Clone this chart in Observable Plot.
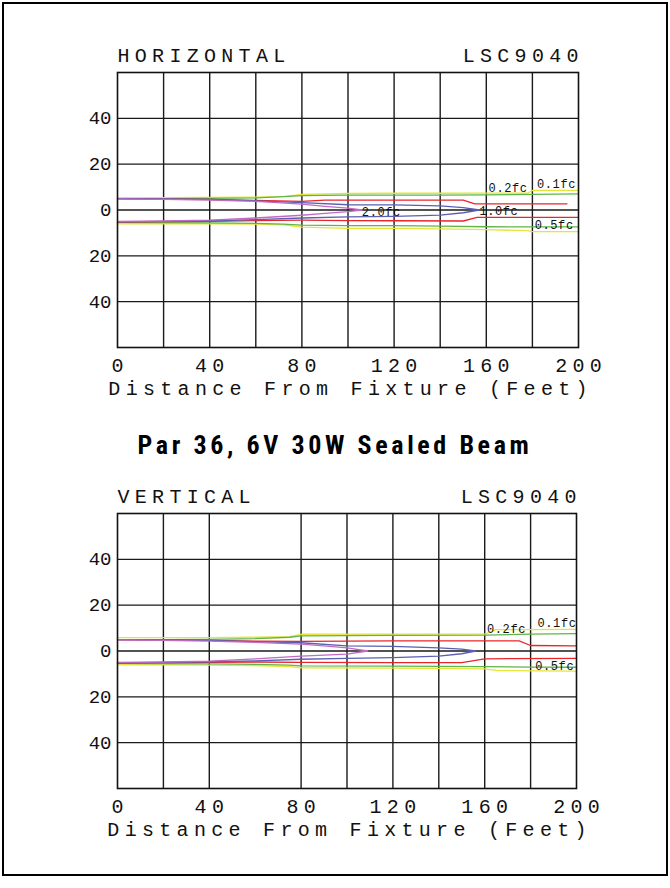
<!DOCTYPE html>
<html>
<head>
<meta charset="utf-8">
<script src="https://cdn.jsdelivr.net/npm/d3@7"></script>
<script src="https://cdn.jsdelivr.net/npm/@observablehq/plot@0.6"></script>
<style>
  html, body { margin: 0; padding: 0; background: #fff; }
  #page { position: relative; width: 670px; height: 888px; overflow: hidden; background: #fff; }
  #border { position: absolute; left: 2px; top: 2px; width: 662px; height: 870px; border: 2px solid #000; z-index: 5; pointer-events: none; }
  .chart { position: absolute; left: 0; z-index: 1; }
  #title { position: absolute; left: 0; width: 670px; top: 430px; text-align: center; z-index: 3;
    font-family: "Liberation Sans Narrow", "Roboto Condensed", "Liberation Sans", Arial, sans-serif;
    font-weight: bold; font-size: 26px; letter-spacing: 3.6px; line-height: 30px; color: #000; }
</style>
</head>
<body>
<div id="page">
  <div id="top" class="chart" style="top:0px"></div>
  <div id="bot" class="chart" style="top:440px"></div>
  <div id="title">Par 36, 6V 30W Sealed Beam</div>
  <div id="border"></div>
</div>
<script>
// ---------- data ----------
const xTickLabels = [0, 40, 80, 120, 160, 200];
const yTickValues = [-40, -20, 0, 20, 40];
const xGridTop = [20, 40, 60, 80, 100, 120, 140, 160, 180];
const xGridBot = [20, 40, 80, 100, 120, 140, 160, 180];
const yGrid = [-40, -20, 0, 20, 40];
const xLabel = "Distance From Fixture (Feet)";

// contour colours
const colors = {"0.1fc": "#e4e43a", "0.2fc": "#5fb548", "0.5fc": "#e8262a", "1.0fc": "#5a5fb4", "2.0fc": "#c26ac4"};

// HORIZONTAL plot: upper and lower edges of each isofootcandle contour
const hYellowX  = [0, 20, 40, 60, 72, 80, 100, 120, 140, 160, 178, 180, 200];
const hYellowUp = [5.4, 5.4, 5.5, 5.6, 5.8, 6.8, 7.2, 7.3, 7.3, 7.4, 7.4, 8.5, 8.6];
const hYellowLo = [-6, -6, -6, -6.2, -6.5, -7.5, -8, -8, -8.2, -8.6, -9, -9.4, -9.4];
const hGreenX   = [0, 20, 40, 60, 72, 80, 100, 120, 140, 160, 180, 200];
const hGreenUp  = [5, 5, 5.1, 5.3, 5.8, 6.3, 6.5, 6.5, 6.5, 6.6, 6.8, 7];
const hGreenLo  = [-5.4, -5.5, -5.6, -5.8, -6.2, -6.6, -6.8, -6.8, -7, -7.3, -7.4, -7.4];
const hRedUpX   = [0, 20, 40, 60, 80, 90, 120, 150, 155, 195];
const hRedUp    = [5, 4.8, 4.6, 4.2, 3.8, 4.3, 4.3, 4.3, 2.7, 2.7];
const hRedLoX   = [0, 20, 40, 60, 80, 100, 120, 150, 156, 200];
const hRedLo    = [-5.3, -5.1, -4.9, -4.6, -4.4, -4.6, -4.7, -4.8, -3.2, -3.2];
const hBlueX    = [0, 20, 40, 60, 80, 100, 120, 140, 150, 157];
const hBlueUp   = [5, 4.8, 4.6, 4, 3.2, 2.3, 2.2, 1.8, 1, 0];
const hBlueLo   = [-5.2, -5, -4.7, -4.2, -3.5, -3, -2.8, -2.2, -1.2, 0];
const hMagX     = [0, 20, 40, 60, 80, 90, 100, 106];
const hMagUp    = [4.8, 4.6, 4.3, 3.8, 2.6, 1.6, 0.8, 0];
const hMagLo    = [-5, -4.8, -4.4, -3.5, -2.3, -1.5, -0.7, 0];

// VERTICAL plot
const vYellowX  = [0, 20, 40, 60, 75, 80, 120, 160, 165, 200];
const vYellowUp = [5.8, 5.8, 5.8, 6, 6.3, 7.3, 7.4, 7.4, 9.3, 9.4];
const vYellowLo = [-6, -6, -6.2, -6.4, -6.8, -7.3, -7.5, -7.8, -8.5, -8.8];
const vGreenX   = [0, 20, 40, 60, 75, 80, 120, 160, 180, 200];
const vGreenUp  = [5, 5, 5.1, 5.4, 6, 6.6, 6.8, 6.9, 7.4, 7.6];
const vGreenLo  = [-5.4, -5.5, -5.6, -5.8, -6.2, -6.5, -6.6, -6.8, -7, -7.1];
const vRedUpX   = [0, 20, 40, 60, 80, 120, 150, 175, 180, 200];
const vRedUp    = [5, 4.8, 4.6, 4.3, 4.2, 4.4, 4.4, 4.4, 2.4, 2.2];
const vRedLoX   = [0, 20, 40, 60, 80, 120, 150, 160, 200];
const vRedLo    = [-5.3, -5.1, -4.9, -4.8, -5, -5.1, -5.1, -3.4, -3.2];
const vBlueX    = [0, 20, 40, 60, 80, 100, 120, 140, 150, 156];
const vBlueUp   = [5, 4.8, 4.6, 4.1, 3.6, 2.2, 2, 1.4, 0.8, 0];
const vBlueLo   = [-5.2, -5, -4.7, -4.3, -3.6, -3.2, -2.9, -2.2, -1.2, 0];
const vMagX     = [0, 20, 40, 60, 80, 90, 100, 109];
const vMagUp    = [4.8, 4.6, 4.3, 3.8, 3, 2.2, 1.4, 0];
const vMagLo    = [-5, -4.8, -4.4, -3.4, -2.2, -1.8, -1.4, 0];

// contour labels
const hLabels = [
  {x: 106, y: -0.9, t: "2.0fc"}, {x: 157, y: -0.5, t: "1.0fc"},
  {x: 161, y: 9.6, t: "0.2fc"}, {x: 182, y: 11.2, t: "0.1fc"}, {x: 181, y: -6.6, t: "0.5fc"}
];
const vLabels = [
  {x: 161, y: 9.4, t: "0.2fc"}, {x: 183, y: 12.2, t: "0.1fc"}, {x: 182, y: -6.8, t: "0.5fc"}
];

// ---------- helpers ----------
const zip = (xs, ys, key) => xs.map((x, i) => ({x, y: ys[i], k: key}));
function contourRows(set) {
  return set.flatMap(([key, xsU, up, xsL, lo]) => [
    ...zip(xsU, up, key + "|u"), ...zip(xsL, lo, key + "|l")
  ]);
}

function makeChart({name, contours, labels, xGrid, marginRight, marginTop, frameH}) {
  const rows = contourRows(contours);
  const mono = "Liberation Mono, Cousine, DejaVu Sans Mono, monospace";
  const svg = Plot.plot({
    width: 670,
    height: marginTop + frameH + 85,
    marginLeft: 117,
    marginRight,
    marginTop,
    marginBottom: 85,
    style: {fontFamily: mono, fontSize: "20px", letterSpacing: "5.3px", color: "#111", background: "transparent", overflow: "visible"},
    x: {domain: [0, 200], axis: null},
    y: {domain: [-60, 60], axis: null},
    marks: [
      Plot.ruleX(xGrid, {stroke: "#1a1a1a", strokeWidth: 1.4}),
      Plot.ruleY(yGrid, {stroke: "#1a1a1a", strokeWidth: 1.4}),
      Plot.line(rows, {x: "x", y: "y", z: "k", stroke: d => colors[d.k.split("|")[0]], strokeWidth: 1.3}),
      Plot.text(labels, {x: "x", y: "y", text: "t", textAnchor: "start", fontSize: 12, fill: "#111"}),
      Plot.frame({stroke: "#111", strokeWidth: 1.6}),
      Plot.axisY(yTickValues, {tickSize: 0, tickPadding: 6, tickFormat: d => Math.abs(d), fontSize: 19, label: null}),
      Plot.axisX(xTickLabels, {tickSize: 0, tickPadding: 10, fontSize: 20, dx: 2.6, label: null}),
      Plot.text([xLabel], {frameAnchor: "bottom", dy: 47, dx: 2.6, fontSize: 20, textAnchor: "middle"}),
      Plot.text([name], {frameAnchor: "top-left", dy: -25, fontSize: 20, textAnchor: "start"}),
      Plot.text(["LSC9040"], {frameAnchor: "top-right", dy: -25, dx: 5.3, fontSize: 20, textAnchor: "end"})
    ]
  });
  d3.select(svg).selectAll("text")
    .filter(function() { return /fc$/.test(this.textContent); })
    .style("letter-spacing", "0.6px");
  d3.select(svg).selectAll("g[font-size='19'] text")
    .style("letter-spacing", "0px");
  return svg;
}

const topChart = makeChart({
  name: "HORIZONTAL",
  contours: [
    ["0.1fc", hYellowX, hYellowUp, hYellowX, hYellowLo],
    ["0.2fc", hGreenX, hGreenUp, hGreenX, hGreenLo],
    ["0.5fc", hRedUpX, hRedUp, hRedLoX, hRedLo],
    ["1.0fc", hBlueX, hBlueUp, hBlueX, hBlueLo],
    ["2.0fc", hMagX, hMagUp, hMagX, hMagLo]
  ],
  labels: hLabels, xGrid: xGridTop, marginRight: 92, marginTop: 72, frameH: 275
});
const botChart = makeChart({
  name: "VERTICAL",
  contours: [
    ["0.1fc", vYellowX, vYellowUp, vYellowX, vYellowLo],
    ["0.2fc", vGreenX, vGreenUp, vGreenX, vGreenLo],
    ["0.5fc", vRedUpX, vRedUp, vRedLoX, vRedLo],
    ["1.0fc", vBlueX, vBlueUp, vBlueX, vBlueLo],
    ["2.0fc", vMagX, vMagUp, vMagX, vMagLo]
  ],
  labels: vLabels, xGrid: xGridBot, marginRight: 94, marginTop: 73, frameH: 275
});
document.getElementById("top").appendChild(topChart);
document.getElementById("bot").appendChild(botChart);
</script>
</body>
</html>
